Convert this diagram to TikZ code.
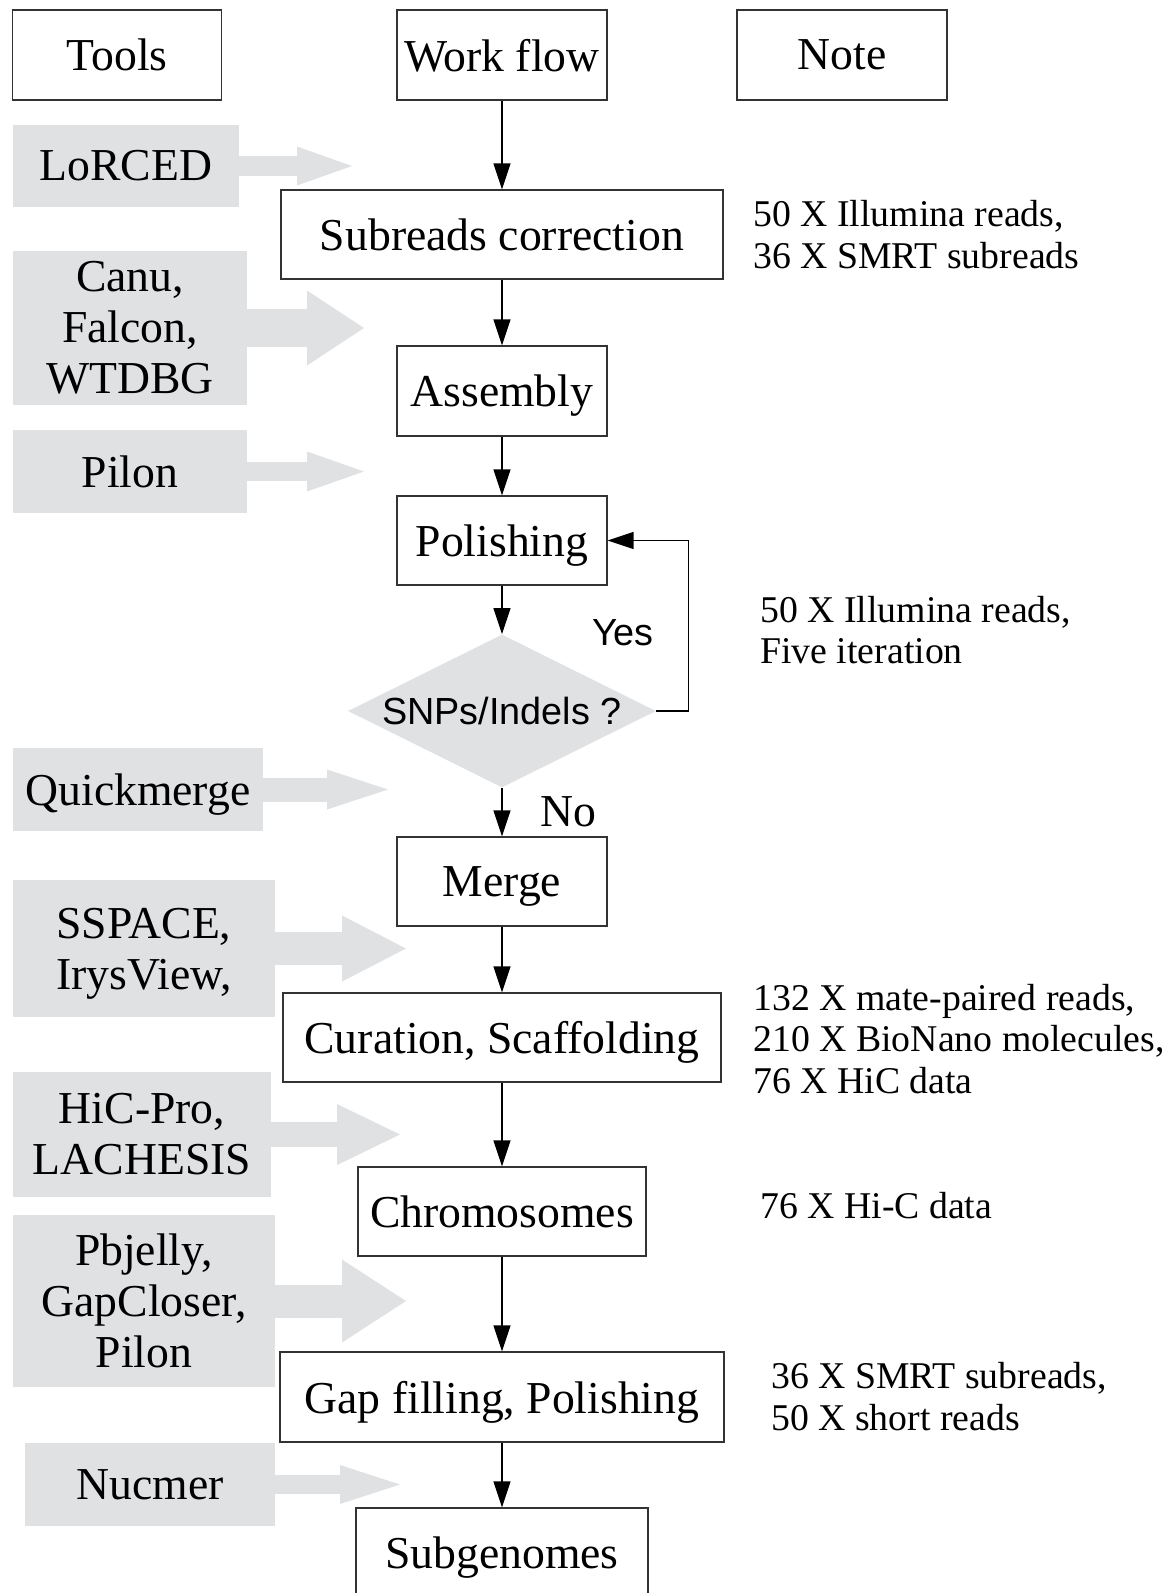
\documentclass[tikz,border=0pt]{standalone}
\usepackage{fontspec}
\setmainfont{Liberation Serif}
\setsansfont{Liberation Sans}
\usepackage{tikz}
\usetikzlibrary{shapes.geometric,arrows.meta}
\definecolor{toolgray}{RGB}{224,225,227}
\definecolor{boxline}{RGB}{51,51,51}

\begin{document}
\begin{tikzpicture}[x=0.02cm, y=-0.02cm,
	stepbox/.style={draw=boxline, line width=0.7pt, inner sep=0pt, text depth=0pt, minimum height=1.78cm, font=\fontsize{26}{29}\selectfont},
	toolbox/.style={fill=toolgray, inner sep=0pt, align=center, font=\fontsize{26}{29}\selectfont},
	notetext/.style={anchor=west, inner sep=0pt, align=left, font=\fontsize{21.5}{23.8}\selectfont},
	flowarrow/.style={draw=black, line width=0.75pt, -{Triangle[length=0.52cm,width=0.34cm]}},
	feedarrow/.style={color=toolgray, line width=#1}]
	
	\useasboundingbox (0,0) rectangle (1174,1593);
	
	% headers
	\node[stepbox, minimum width=4.18cm, minimum height=1.8cm] (tools) at (117, 55) {Tools};
	\node[stepbox, minimum width=4.2cm, minimum height=1.8cm] (workflow) at (502, 55) {Work flow};
	\node[stepbox, minimum width=4.2cm, minimum height=1.8cm] (note) at (842, 55) {Note};
	
	% work flow
	\node[stepbox, minimum width=8.84cm] (subreads) at (502, 234.5) {Subreads correction};
	\node[stepbox, minimum width=4.2cm, minimum height=1.8cm] (assembly) at (502, 391) {Assembly};
	\node[stepbox, minimum width=4.2cm] (polishing) at (502, 540.5) {Polishing};
	\node[diamond, aspect=2, fill=toolgray, inner sep=0pt, minimum width=6.16cm, minimum height=3.06cm, font=\sffamily\fontsize{21.5}{24}\selectfont] (snps) at (502, 711) {SNPs/Indels ?};
	\node[stepbox, minimum width=4.2cm] (merge) at (502, 881.5) {Merge};
	\node[stepbox, minimum width=8.76cm] (curation) at (502, 1037.5) {Curation, Scaffolding};
	\node[stepbox, minimum width=5.76cm] (chromosomes) at (502, 1211.5) {Chromosomes};
	\node[stepbox, minimum width=8.88cm, minimum height=1.8cm] (gapfill) at (502, 1397) {Gap filling, Polishing};
	\node[stepbox, minimum width=5.84cm] (subgenomes) at (502, 1552.5) {Subgenomes};
	
	\node[font=\sffamily\fontsize{21.5}{24}\selectfont] (yes) at (623, 633) {Yes};
	\node[font=\fontsize{26}{29}\selectfont] (no) at (568, 812) {No};
	
	\path[flowarrow] (workflow) edge (subreads);
	\path[flowarrow] (subreads) edge (assembly);
	\path[flowarrow] (assembly) edge (polishing);
	\path[flowarrow] (polishing) edge (snps);
	\path[flowarrow] (snps) edge (merge);
	\path[flowarrow] (merge) edge (curation);
	\path[flowarrow] (curation) edge (chromosomes);
	\path[flowarrow] (chromosomes) edge (gapfill);
	\path[flowarrow] (gapfill) edge (subgenomes);
	\draw[flowarrow] (snps.east) -- ++(32, 0) |- (polishing.east);
	
	% tools
	\node[toolbox, minimum width=4.52cm, minimum height=1.64cm] (lorced) at (126, 166) {LoRCED};
	\node[toolbox, minimum width=4.68cm, minimum height=3.08cm] (canu) at (130, 328) {Canu,\\Falcon,\\WTDBG};
	\node[toolbox, minimum width=4.68cm, minimum height=1.66cm] (pilon) at (130, 471.5) {Pilon};
	\node[toolbox, text depth=0pt, minimum width=5cm, minimum height=1.66cm] (quickmerge) at (138, 789.5) {Quickmerge};
	\node[toolbox, text depth=0pt, minimum width=5.24cm, minimum height=2.74cm] (sspace) at (144, 948.5) {SSPACE,\\IrysView,};
	\node[toolbox, minimum width=5.16cm, minimum height=2.5cm] (hicpro) at (142, 1134.5) {HiC-Pro,\\LACHESIS};
	\node[toolbox, minimum width=5.24cm, minimum height=3.44cm] (pbjelly) at (144, 1301) {Pbjelly,\\GapCloser,\\Pilon};
	\node[toolbox, minimum width=5cm, minimum height=1.66cm] (nucmer) at (150, 1484.5) {Nucmer};
	
	\coordinate (lorcedtip) at (352, 166);
	\coordinate (canutip) at (364, 328);
	\coordinate (pilontip) at (364, 471.5);
	\coordinate (quickmergetip) at (388, 789.5);
	\coordinate (sspacetip) at (406, 948.5);
	\coordinate (hicprotip) at (400, 1134.5);
	\coordinate (pbjellytip) at (406, 1301);
	\coordinate (nucmertip) at (400, 1484.5);
	
	\path[feedarrow=0.4cm, -{Triangle[length=1.1cm,width=0.78cm,line width=0pt]}] (lorced) edge (lorcedtip);
	\path[feedarrow=0.76cm, -{Triangle[length=1.14cm,width=1.5cm,line width=0pt]}] (canu) edge (canutip);
	\path[feedarrow=0.38cm, -{Triangle[length=1.14cm,width=0.8cm,line width=0pt]}] (pilon) edge (pilontip);
	\path[feedarrow=0.48cm, -{Triangle[length=1.22cm,width=0.8cm,line width=0pt]}] (quickmerge) edge (quickmergetip);
	\path[feedarrow=0.66cm, -{Triangle[length=1.28cm,width=1.32cm,line width=0pt]}] (sspace) edge (sspacetip);
	\path[feedarrow=0.5cm, -{Triangle[length=1.26cm,width=1.22cm,line width=0pt]}] (hicpro) edge (hicprotip);
	\path[feedarrow=0.66cm, -{Triangle[length=1.28cm,width=1.66cm,line width=0pt]}] (pbjelly) edge (pbjellytip);
	\path[feedarrow=0.38cm, -{Triangle[length=1.2cm,width=0.78cm,line width=0pt]}] (nucmer) edge (nucmertip);
	
	% notes
	\node[notetext] (note1) at (753, 234.5) {50 X Illumina reads,\\36 X SMRT subreads};
	\node[notetext] (note2) at (760, 630) {50 X Illumina reads,\\Five iteration};
	\node[notetext] (note3) at (753, 1039) {132 X mate-paired reads,\\210 X BioNano molecules,\\76 X HiC data};
	\node[notetext] (note4) at (760, 1206) {76 X Hi-C data};
	\node[notetext] (note5) at (771, 1396.5) {36 X SMRT subreads,\\50 X short reads};
	
\end{tikzpicture}
\end{document}
